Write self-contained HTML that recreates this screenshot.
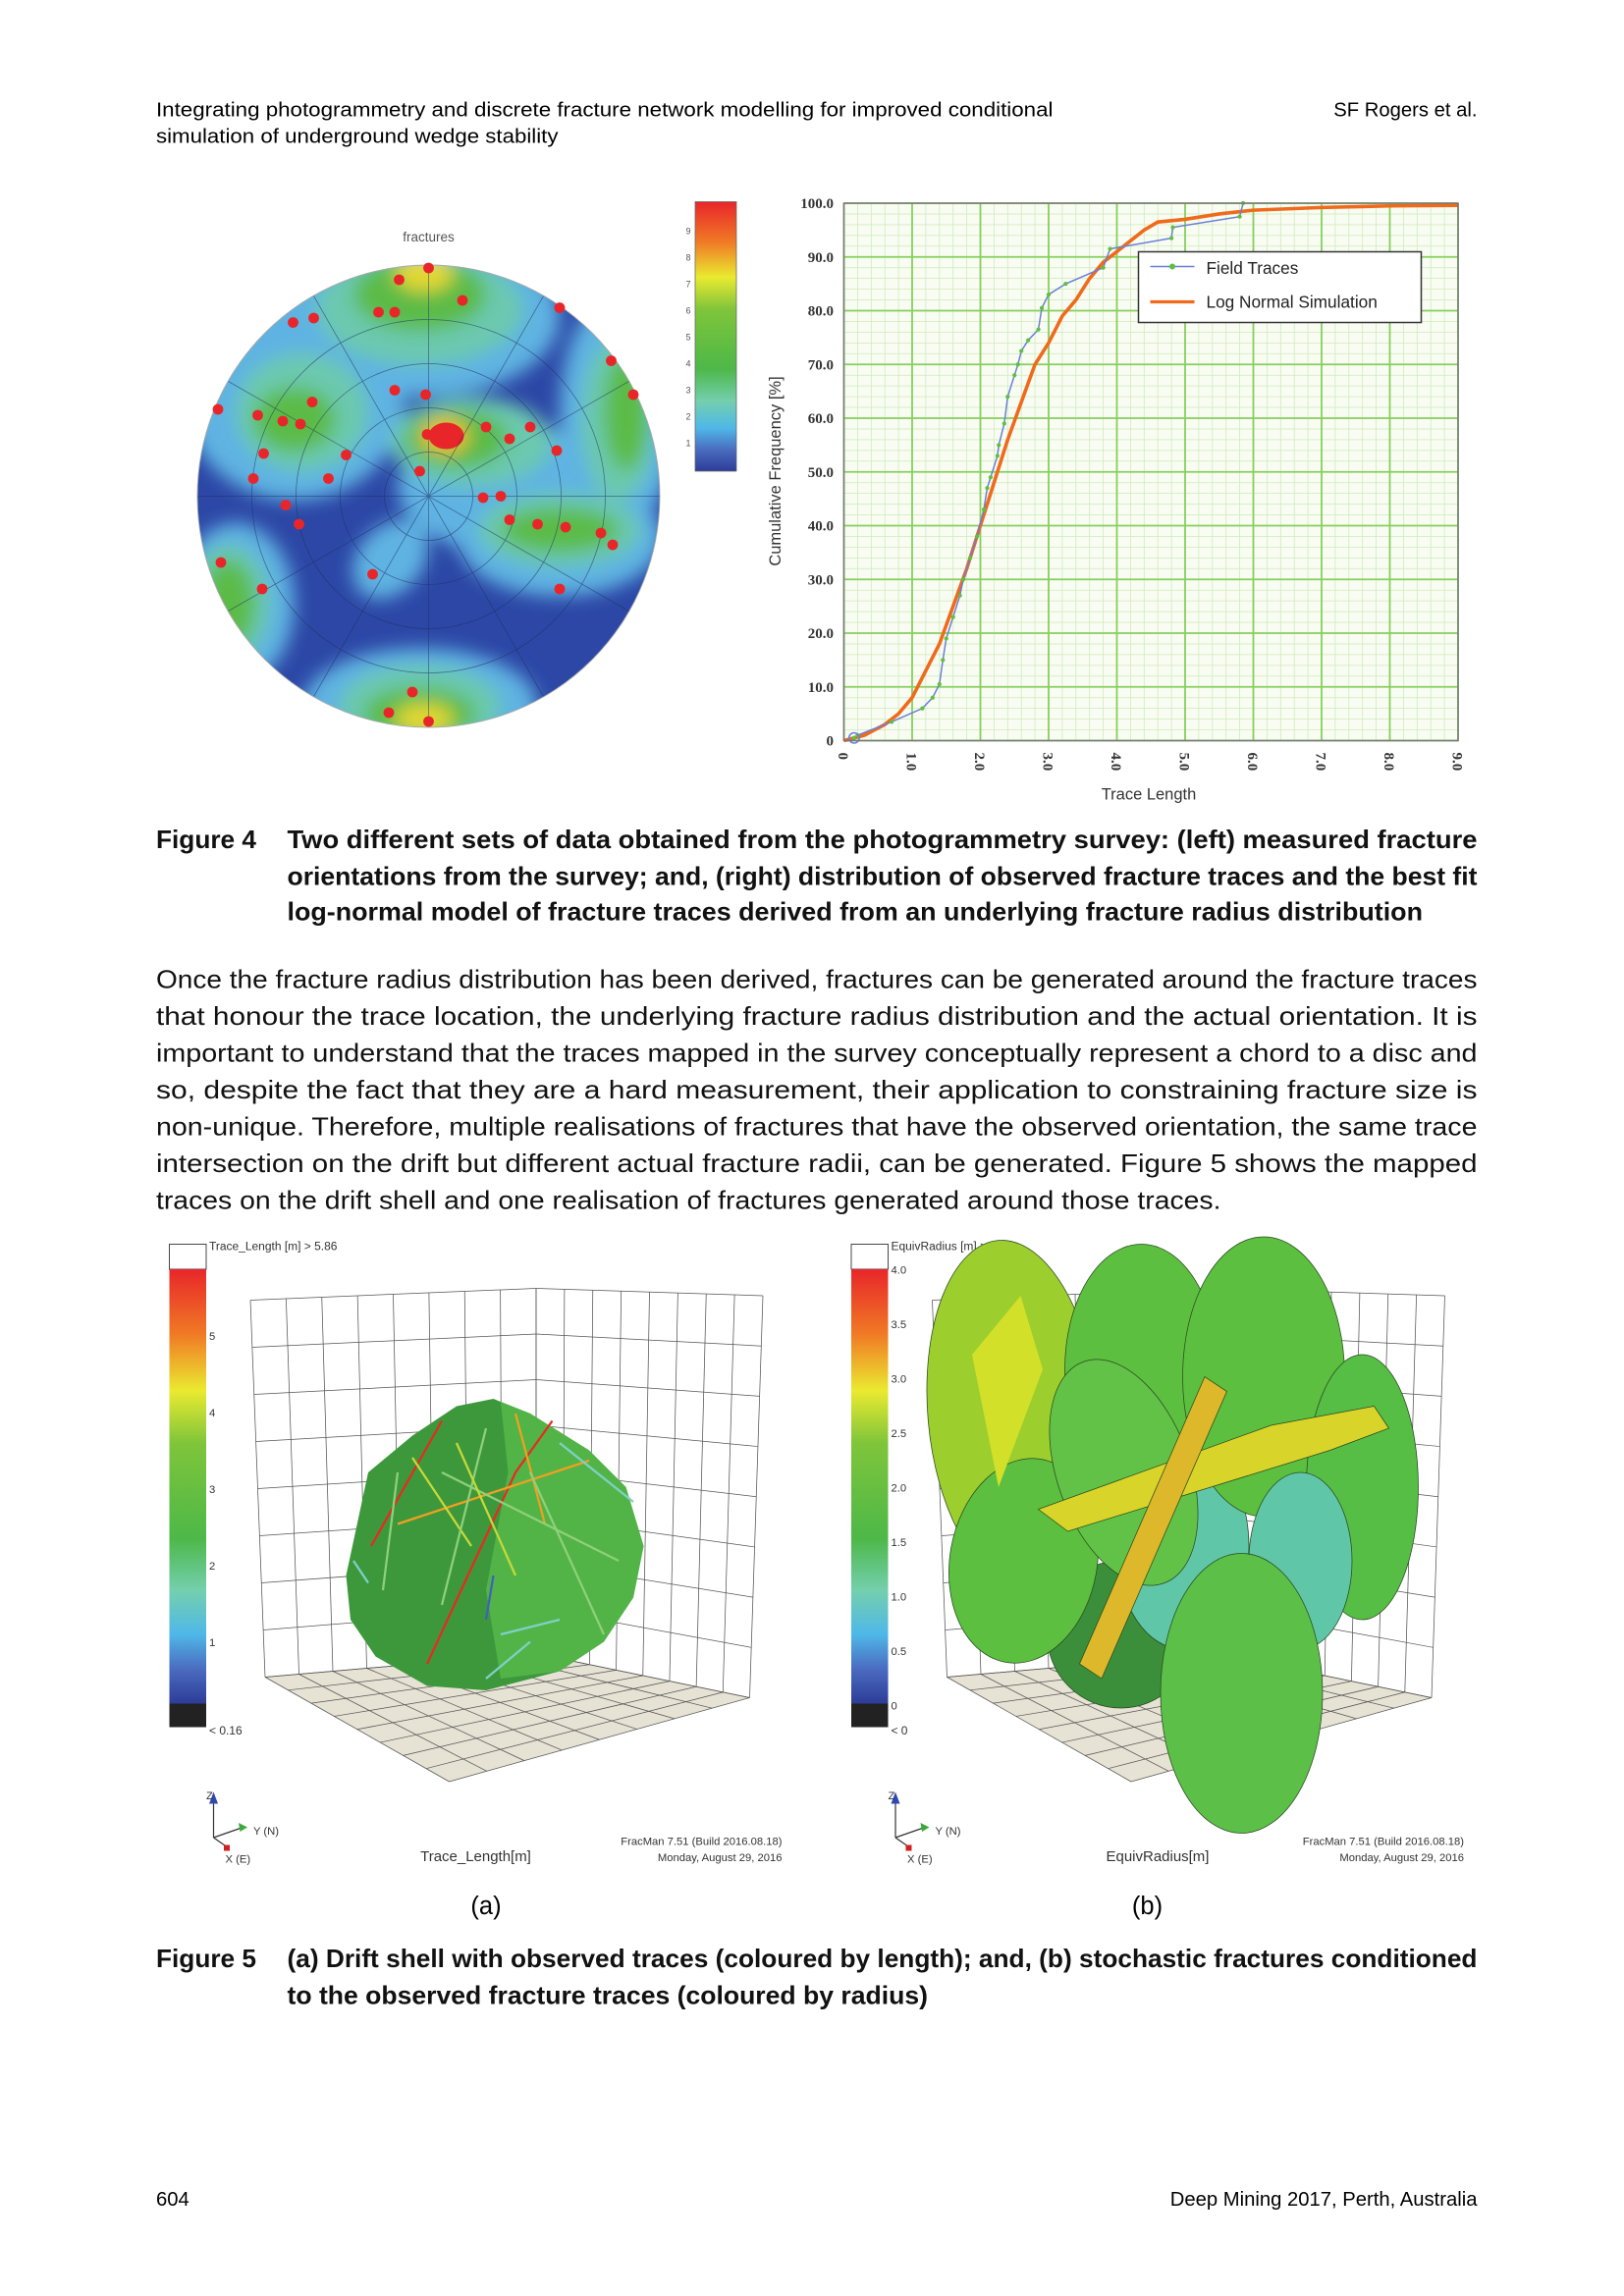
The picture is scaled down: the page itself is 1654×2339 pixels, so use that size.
<!DOCTYPE html>
<html><head><meta charset="utf-8">
<style>
html,body{margin:0;padding:0;background:#fff;}
svg{display:block;}
text{font-family:"Liberation Sans",sans-serif;}
.cap{font-weight:bold;font-size:17.5px;fill:#111;}
.par{font-size:17.5px;fill:#111;}
.tick{font-family:"Liberation Serif",serif;font-weight:bold;font-size:10px;fill:#333;}
</style></head>
<body>
<svg id="page" width="1654" height="2339" viewBox="0 0 1102.67 1559.33" xmlns="http://www.w3.org/2000/svg">
<defs>
 <clipPath id="netclip"><circle cx="291" cy="337" r="157"/></clipPath>
 <filter id="bl" x="-50%" y="-50%" width="200%" height="200%"><feGaussianBlur stdDeviation="6"/></filter>
 <linearGradient id="cbar" x1="0" y1="0" x2="0" y2="1">
  <stop offset="0" stop-color="#e8262a"/><stop offset="0.15" stop-color="#f07a25"/>
  <stop offset="0.28" stop-color="#eaea30"/><stop offset="0.4" stop-color="#7fc53a"/>
  <stop offset="0.62" stop-color="#4db848"/><stop offset="0.74" stop-color="#74cfae"/>
  <stop offset="0.84" stop-color="#4fb8e8"/><stop offset="0.92" stop-color="#4a6cc0"/>
  <stop offset="1" stop-color="#2d3c98"/>
 </linearGradient>
</defs>

<text x="106" y="79" font-size="13.5" textLength="609" lengthAdjust="spacingAndGlyphs">Integrating photogrammetry and discrete fracture network modelling for improved conditional</text>
<text x="106" y="97" font-size="13.5" textLength="273" lengthAdjust="spacingAndGlyphs">simulation of underground wedge stability</text>
<text x="1003" y="79" font-size="13.5" text-anchor="end">SF Rogers et al.</text>

<g>
 <text x="291" y="164" font-size="9" text-anchor="middle" fill="#555">fractures</text>
 <g clip-path="url(#netclip)">
  <circle cx="291" cy="337" r="157" fill="#2c47a6"/>
  <g filter="url(#bl)">
   <ellipse cx="285" cy="215" rx="95" ry="55" fill="#5eb3e2"/>
   <ellipse cx="200" cy="270" rx="75" ry="70" fill="#5eb3e2"/>
   <ellipse cx="420" cy="280" rx="40" ry="80" fill="#5eb3e2"/>
   <ellipse cx="340" cy="330" rx="70" ry="45" fill="#5eb3e2"/>
   <ellipse cx="380" cy="365" rx="70" ry="40" fill="#5eb3e2"/>
   <ellipse cx="160" cy="410" rx="40" ry="55" fill="#5eb3e2"/>
   <ellipse cx="285" cy="480" rx="80" ry="40" fill="#5eb3e2"/>
   <ellipse cx="265" cy="380" rx="22" ry="30" fill="#5eb3e2" transform="rotate(40 265 380)"/>
   <ellipse cx="285" cy="210" rx="70" ry="38" fill="#6cc9ae"/>
   <ellipse cx="205" cy="280" rx="45" ry="40" fill="#6cc9ae"/>
   <ellipse cx="420" cy="285" rx="25" ry="55" fill="#6cc9ae"/>
   <ellipse cx="320" cy="300" rx="55" ry="30" fill="#6cc9ae"/>
   <ellipse cx="380" cy="360" rx="55" ry="25" fill="#6cc9ae"/>
   <ellipse cx="155" cy="410" rx="28" ry="40" fill="#6cc9ae"/>
   <ellipse cx="285" cy="480" rx="55" ry="28" fill="#6cc9ae"/>
   <ellipse cx="285" cy="200" rx="45" ry="25" fill="#5cbb46"/>
   <ellipse cx="200" cy="285" rx="28" ry="22" fill="#5cbb46"/>
   <ellipse cx="425" cy="280" rx="15" ry="40" fill="#5cbb46"/>
   <ellipse cx="310" cy="298" rx="35" ry="20" fill="#5cbb46"/>
   <ellipse cx="380" cy="360" rx="40" ry="15" fill="#5cbb46"/>
   <ellipse cx="155" cy="410" rx="18" ry="30" fill="#5cbb46"/>
   <ellipse cx="285" cy="485" rx="38" ry="18" fill="#5cbb46"/>
   <ellipse cx="288" cy="186" rx="20" ry="12" fill="#e4d830"/>
   <ellipse cx="288" cy="488" rx="20" ry="10" fill="#e4d830"/>
   <ellipse cx="302" cy="296" rx="16" ry="12" fill="#f0c030"/>
  </g>
  <ellipse cx="303" cy="296" rx="12" ry="9" fill="#e8262a"/>
  <g stroke="#1e3060" stroke-width="0.5" fill="none" opacity="0.6">
   <circle cx="291" cy="337" r="30"/><circle cx="291" cy="337" r="60"/><circle cx="291" cy="337" r="90"/><circle cx="291" cy="337" r="120"/>
   <line x1="134" y1="337" x2="448" y2="337"/><line x1="291" y1="180" x2="291" y2="494"/>
   <line x1="155" y1="259" x2="427" y2="415"/><line x1="155" y1="415" x2="427" y2="259"/>
   <line x1="213" y1="201" x2="369" y2="473"/><line x1="369" y1="201" x2="213" y2="473"/>
  </g>
 </g>
 <circle cx="291" cy="337" r="157" fill="none" stroke="#aaa" stroke-width="0.6"/>
 <g id="dots" fill="#e8262a"></g>
 <rect x="472" y="137" width="28" height="183" fill="url(#cbar)" stroke="#666" stroke-width="0.5"/>
 <g font-size="6" fill="#555" text-anchor="end">
  <text x="469" y="159">9</text><text x="469" y="177">8</text><text x="469" y="195">7</text><text x="469" y="213">6</text><text x="469" y="231">5</text><text x="469" y="249">4</text><text x="469" y="267">3</text><text x="469" y="285">2</text><text x="469" y="303">1</text>
 </g>
</g>

<g id="chart">
 <rect x="573" y="138" width="417" height="365" fill="#f8fcf3"/>
 <g id="grid"></g>
 <g id="series"></g>
 <rect x="573" y="138" width="417" height="365" fill="none" stroke="#777" stroke-width="1"/>
 <g id="ticks"></g>
 <text transform="translate(530,320) rotate(-90)" font-size="11" text-anchor="middle" fill="#333">Cumulative Frequency [%]</text>
 <text x="780" y="543" font-size="11" text-anchor="middle" fill="#333">Trace Length</text>
 <g>
  <rect x="773" y="171" width="192" height="48" fill="#fff" stroke="#333" stroke-width="1"/>
  <line x1="781" y1="181" x2="811" y2="181" stroke="#6b7fd6" stroke-width="1"/><circle cx="796" cy="181" r="2" fill="#5cc040"/>
  <text x="819" y="186" font-size="11.5" fill="#222">Field Traces</text>
  <line x1="781" y1="205" x2="811" y2="205" stroke="#f06a1c" stroke-width="2.2"/>
  <text x="819" y="209" font-size="11.5" fill="#222">Log Normal Simulation</text>
 </g>
</g>

<g>
<text class="cap" x="106" y="576">Figure 4</text>
<text class="cap" x="195" y="576" textLength="808" lengthAdjust="spacingAndGlyphs">Two different sets of data obtained from the photogrammetry survey: (left) measured fracture</text>
<text class="cap" x="195" y="601" textLength="808" lengthAdjust="spacingAndGlyphs">orientations from the survey; and, (right) distribution of observed fracture traces and the best fit</text>
<text class="cap" x="195" y="625" textLength="771" lengthAdjust="spacingAndGlyphs">log-normal model of fracture traces derived from an underlying fracture radius distribution</text>
</g>

<g>
<text class="par" x="106" y="671" textLength="897" lengthAdjust="spacingAndGlyphs">Once the fracture radius distribution has been derived, fractures can be generated around the fracture traces</text>
<text class="par" x="106" y="696" textLength="897" lengthAdjust="spacingAndGlyphs">that honour the trace location, the underlying fracture radius distribution and the actual orientation. It is</text>
<text class="par" x="106" y="721" textLength="897" lengthAdjust="spacingAndGlyphs">important to understand that the traces mapped in the survey conceptually represent a chord to a disc and</text>
<text class="par" x="106" y="746" textLength="897" lengthAdjust="spacingAndGlyphs">so, despite the fact that they are a hard measurement, their application to constraining fracture size is</text>
<text class="par" x="106" y="771" textLength="897" lengthAdjust="spacingAndGlyphs">non-unique. Therefore, multiple realisations of fractures that have the observed orientation, the same trace</text>
<text class="par" x="106" y="796" textLength="897" lengthAdjust="spacingAndGlyphs">intersection on the drift but different actual fracture radii, can be generated. Figure 5 shows the mapped</text>
<text class="par" x="106" y="821" textLength="723" lengthAdjust="spacingAndGlyphs">traces on the drift shell and one realisation of fractures generated around those traces.</text>
</g>

<g id="panelA"></g>
<g id="panelB" transform="translate(463,0)"></g>

<text x="330" y="1300" font-size="17" text-anchor="middle">(a)</text>
<text x="779" y="1300" font-size="17" text-anchor="middle">(b)</text>

<g>
<text class="cap" x="106" y="1336">Figure 5</text>
<text class="cap" x="195" y="1336" textLength="808" lengthAdjust="spacingAndGlyphs">(a) Drift shell with observed traces (coloured by length); and, (b) stochastic fractures conditioned</text>
<text class="cap" x="195" y="1361" textLength="435" lengthAdjust="spacingAndGlyphs">to the observed fracture traces (coloured by radius)</text>
</g>

<text x="106" y="1498" font-size="13.5">604</text>
<text x="1003" y="1498" font-size="13.5" text-anchor="end">Deep Mining 2017, Perth, Australia</text>
</svg>

<script>
const NS='http://www.w3.org/2000/svg';
function mk(tag,attrs,parent){const e=document.createElementNS(NS,tag);for(const k in attrs)e.setAttribute(k,attrs[k]);parent.appendChild(e);return e;}

const xTicks=[0,1,2,3,4,5,6,7,8,9];
const xTickLabels=["0","1.0","2.0","3.0","4.0","5.0","6.0","7.0","8.0","9.0"];
const yTicks=[0,10,20,30,40,50,60,70,80,90,100];
const yTickLabels=["0","10.0","20.0","30.0","40.0","50.0","60.0","70.0","80.0","90.0","100.0"];
const fieldX=[0.15,0.2,0.7,1.15,1.3,1.4,1.45,1.5,1.6,1.7,1.75,1.85,1.95,2.05,2.1,2.15,2.25,2.27,2.35,2.4,2.5,2.55,2.6,2.7,2.85,2.9,3.0,3.25,3.8,3.9,4.8,4.82,5.8,5.85];
const fieldY=[0.5,1,3.5,6,8,10.5,15,19,23,27,30,34,38,43,47,49,53,55,59,64,68,70,72.5,74.5,76.5,80.5,83,85,88,91.5,93.5,95.5,97.5,100];
const simX=[0,0.3,0.6,0.8,1.0,1.2,1.4,1.6,1.8,2.0,2.2,2.4,2.6,2.8,3.0,3.2,3.4,3.6,3.8,4.0,4.2,4.4,4.6,5.0,5.5,6.0,7.0,8.0,9.0];
const simY=[0,1,3,5,8,13,18,25,32,40,48,56,63,70,74,79,82,86,89,91,93,95,96.5,97,98,98.7,99.2,99.5,99.6];

const X0=573,X1=990,Y0=503,Y1=138;
function sx(v){return X0+(v/9)*(X1-X0);}
function sy(v){return Y0-(v/100)*(Y0-Y1);}

const grid=document.getElementById('grid');
for(let i=0;i<=45;i++){const v=i*0.2;if(i%5)mk('line',{x1:sx(v),x2:sx(v),y1:Y1,y2:Y0,stroke:'#cfeab9','stroke-width':0.5},grid);}
for(let i=0;i<=50;i++){const v=i*2;if(i%5)mk('line',{x1:X0,x2:X1,y1:sy(v),y2:sy(v),stroke:'#cfeab9','stroke-width':0.5},grid);}
xTicks.forEach(v=>mk('line',{x1:sx(v),x2:sx(v),y1:Y1,y2:Y0,stroke:'#86cf5c','stroke-width':1.2},grid));
yTicks.forEach(v=>mk('line',{x1:X0,x2:X1,y1:sy(v),y2:sy(v),stroke:'#86cf5c','stroke-width':1.2},grid));

const ticks=document.getElementById('ticks');
yTicks.forEach((v,i)=>{const t=mk('text',{x:566,y:sy(v)+3.5,'text-anchor':'end',class:'tick'},ticks);t.textContent=yTickLabels[i];

});
xTicks.forEach((v,i)=>{const t=mk('text',{transform:`translate(${sx(v)-3.5},${Y0+8}) rotate(90)`,class:'tick'},ticks);t.textContent=xTickLabels[i];

});

const series=document.getElementById('series');
const simPts=simX.map((x,i)=>sx(x)+','+sy(simY[i])).join(' ');
const simLine=mk('polyline',{points:simPts,fill:'none',stroke:'#f06a1c','stroke-width':2.4},series);


const fPts=fieldX.map((x,i)=>sx(x)+','+sy(fieldY[i])).join(' ');
const fLine=mk('polyline',{points:fPts,fill:'none',stroke:'#6b7fd6','stroke-width':1},series);


fieldX.forEach((x,i)=>{const c=mk('circle',{cx:sx(x),cy:sy(fieldY[i]),r:1.4,fill:'#5cc040'},series);

});
mk('circle',{cx:sx(0.15),cy:sy(0.5),r:3.5,fill:'none',stroke:'#6b7fd6'},series);

const dotX=[271,291,213,199,257,268,314,380,415,430,148,175,212,192,204,268,289,290,297,305,330,360,346,378,179,235,172,223,285,340,328,346,365,384,408,416,194,203,253,178,150,380,280,264,291];
const dotY=[190,182,216,219,212,212,204,209,245,268,278,282,273,286,288,265,268,295,299,296,290,290,298,306,308,309,325,325,320,337,338,353,356,358,362,370,343,356,390,400,382,400,470,484,490];
const dots=document.getElementById('dots');
dotX.forEach((x,i)=>{const c=mk('circle',{cx:x,cy:dotY[i],r:3.6},dots);

});

function lerp(a,b,t){return [a[0]+(b[0]-a[0])*t,a[1]+(b[1]-a[1])*t];}
function box(g){
 const TL=[170,883],TB=[364,875],TR=[518,880],BB=[364,1123],BL=[180,1139],BR=[509,1153],F=[305,1210];
 mk('polygon',{points:[BB,BL,F,BR].map(p=>p.join(',')).join(' '),fill:'#e6e2d4'},g);
 const st={stroke:'#555','stroke-width':0.5};
 const walls=[[TL,TB,BB,BL],[TB,TR,BR,BB]];
 walls.forEach(([a,b,c,d])=>{
  for(let i=0;i<=8;i++){const t=i/8;const p=lerp(a,b,t),q=lerp(d,c,t);mk('line',Object.assign({x1:p[0],y1:p[1],x2:q[0],y2:q[1]},st),g);}
  for(let i=0;i<=8;i++){const t=i/8;const p=lerp(a,d,t),q=lerp(b,c,t);mk('line',Object.assign({x1:p[0],y1:p[1],x2:q[0],y2:q[1]},st),g);}
 });
 for(let i=0;i<=8;i++){const t=i/8;let p=lerp(BB,BL,t),q=lerp(BR,F,t);mk('line',Object.assign({x1:p[0],y1:p[1],x2:q[0],y2:q[1]},st),g);
  p=lerp(BB,BR,t);q=lerp(BL,F,t);mk('line',Object.assign({x1:p[0],y1:p[1],x2:q[0],y2:q[1]},st),g);}
}
function cbar(g,labels,top,bot){
 mk('rect',{x:115,y:845,width:25,height:17,fill:'#fff',stroke:'#333','stroke-width':0.6},g);
 mk('rect',{x:115,y:862,width:25,height:295,fill:'url(#cbar)'},g);
 mk('rect',{x:115,y:1157,width:25,height:16,fill:'#222'},g);
 let t=mk('text',{x:142,y:849,'font-size':8,fill:'#333'},g);t.textContent=top;
 t=mk('text',{x:142,y:1178,'font-size':8,fill:'#333'},g);t.textContent=bot;
 labels.forEach(([y,s])=>{const e=mk('text',{x:142,y:y,'font-size':7.5,fill:'#333'},g);e.textContent=s;});
}
function axes(g,label){
 mk('line',{x1:145,y1:1248,x2:145,y2:1222,stroke:'#333','stroke-width':0.8},g);
 mk('polygon',{points:'142,1225 148,1225 145,1217',fill:'#3048b0'},g);
 mk('line',{x1:145,y1:1248,x2:165,y2:1241,stroke:'#333','stroke-width':0.8},g);
 mk('polygon',{points:'162,1238 168,1241 163,1244',fill:'#3aaa3a'},g);
 mk('line',{x1:145,y1:1248,x2:155,y2:1255,stroke:'#333','stroke-width':0.8},g);
 mk('rect',{x:152,y:1253,width:4,height:4,fill:'#d02020'},g);
 let t=mk('text',{x:140,y:1222,'font-size':7.5,fill:'#333'},g);t.textContent='Z';
 t=mk('text',{x:172,y:1246,'font-size':7.5,fill:'#333'},g);t.textContent='Y (N)';
 t=mk('text',{x:153,y:1265,'font-size':7.5,fill:'#333'},g);t.textContent='X (E)';
 t=mk('text',{x:323,y:1264,'font-size':10,fill:'#333','text-anchor':'middle'},g);t.textContent=label;
 t=mk('text',{x:531,y:1253,'font-size':7.5,fill:'#333','text-anchor':'end'},g);t.textContent='FracMan 7.51 (Build 2016.08.18)';
 t=mk('text',{x:531,y:1264,'font-size':7.5,fill:'#333','text-anchor':'end'},g);t.textContent='Monday, August 29, 2016';
}
const A=document.getElementById('panelA');
box(A);
cbar(A,[[910,'5'],[962,'4'],[1014,'3'],[1066,'2'],[1118,'1']],'Trace_Length [m] > 5.86','< 0.16');
mk('polygon',{points:'235,1070 250,1000 280,975 310,955 335,950 360,960 400,985 425,1010 437,1050 430,1085 410,1115 380,1135 330,1148 290,1145 255,1125 238,1100',fill:'#3d983c'},A);
mk('polygon',{points:'340,952 360,960 400,985 425,1010 437,1050 430,1085 410,1115 380,1135 340,1140 330,1080 345,1000',fill:'#52b447'},A);
const lines=[['#e82a20',290,1130,350,1000],['#e82a20',350,1000,375,965],['#e82a20',252,1050,300,965],['#f0a020',270,1035,400,992],['#f0a020',350,960,370,1035],['#c8d838',280,990,320,1050],['#8fd07a',300,1000,420,1060],['#8fd07a',330,970,300,1090],['#7fd0c8',380,980,430,1020],['#7fd0c8',330,1140,360,1115],['#7fd0c8',240,1060,250,1075],['#8fd07a',360,1000,410,1110],['#c8d838',310,980,350,1070],['#7fd0c8',340,1110,380,1100],['#8fd07a',270,1000,260,1080],['#4060c0',335,1070,330,1100]];
lines.forEach(l=>{const e=mk('line',{x1:l[1],y1:l[2],x2:l[3],y2:l[4],stroke:l[0],'stroke-width':1.5},A);

});
axes(A,'Trace_Length[m]');

const B=document.getElementById('panelB');
box(B);
cbar(B,[[865,'4.0'],[902,'3.5'],[939,'3.0'],[976,'2.5'],[1013,'2.0'],[1050,'1.5'],[1087,'1.0'],[1124,'0.5'],[1161,'0']],'EquivRadius [m] > 4','< 0');
const ell=[[298,1110,50,50,'#3b8f3a',0],[340,1050,45,70,'#5fc7a8',0],[225,960,58,118,'#9cce2e',-5],[312,930,52,85,'#5cbf3f',0],[395,935,55,95,'#5cbf3f',0],[462,1010,38,90,'#56bd45',0],[232,1060,50,70,'#5cbf3f',10],[300,1000,45,80,'#62c248',-20],[420,1060,35,60,'#5fc7a8',0],[380,1150,55,95,'#5cbf48',0]];
ell.forEach(e=>{const el=mk('ellipse',{cx:e[0],cy:e[1],rx:e[2],ry:e[3],fill:e[4],stroke:'#2a4a20','stroke-width':0.5,transform:`rotate(${e[5]} ${e[0]} ${e[1]})`},B);

});
mk('polygon',{points:'197,920 230,880 245,930 215,1010',fill:'#d2e02a'},B);
const yb=mk('polygon',{points:'242,1025 262,1040 440,985 480,970 470,955 400,968',fill:'#d8d42a',stroke:'#2a4a20','stroke-width':0.5},B);


const ob=mk('polygon',{points:'270,1130 285,1140 370,945 355,935',fill:'#dcb82a',stroke:'#2a4a20','stroke-width':0.5},B);


axes(B,'EquivRadius[m]');
</script>
</body></html>
